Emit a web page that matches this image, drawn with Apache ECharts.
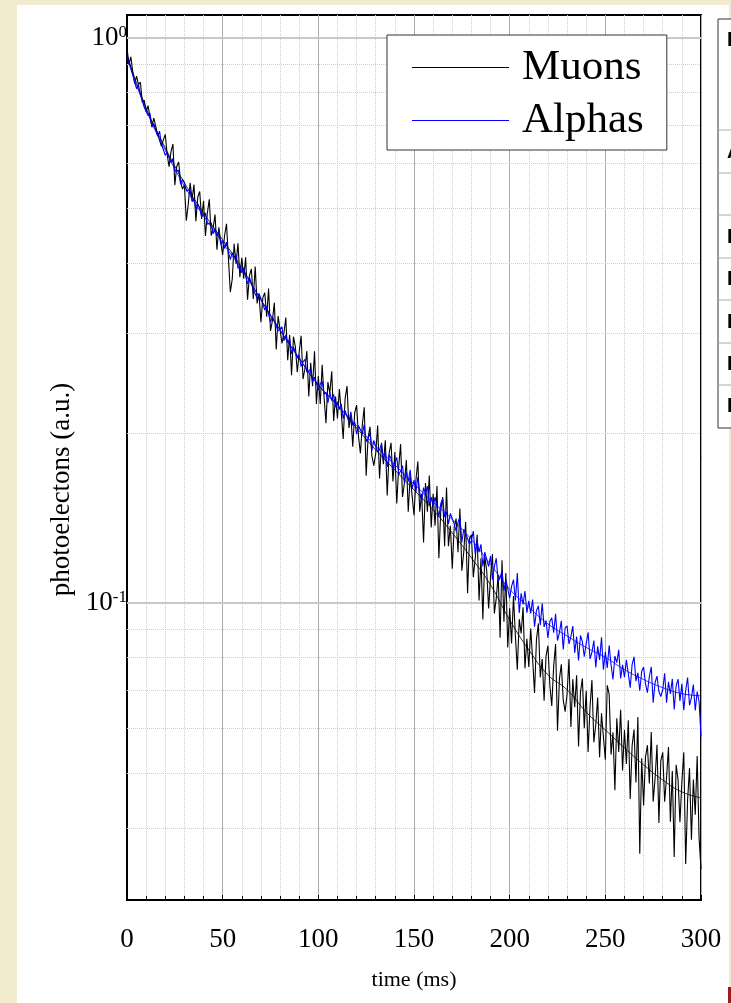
<!DOCTYPE html>
<html>
<head>
<meta charset="utf-8">
<script src="https://cdn.jsdelivr.net/npm/echarts@6/dist/echarts.min.js"></script>
<style>
  html, body { margin: 0; padding: 0; background: #f2ebcd; }
  #panel { position: absolute; left: 17px; top: 5px; width: 712px; height: 998px; background: #ffffff; }
  #chart { position: absolute; left: 0; top: 0; width: 731px; height: 1003px; }
</style>
</head>
<body>
<div id="panel"></div>
<div id="chart"></div>
<script>
// ---- data (time in ms, 1 ms bins) ----
const timeStep = 1;
const muons = [
  0.96, 0.897, 0.926, 0.872, 0.830, 0.856, 0.827, 0.835, 0.769, 0.776,
  0.740, 0.759, 0.726, 0.695, 0.721, 0.724, 0.676, 0.678, 0.643, 0.660,
  0.675, 0.621, 0.592, 0.629, 0.649, 0.549, 0.593, 0.603, 0.557, 0.540,
  0.549, 0.475, 0.507, 0.554, 0.518, 0.550, 0.474, 0.523, 0.535, 0.478,
  0.515, 0.446, 0.490, 0.518, 0.447, 0.460, 0.487, 0.422, 0.462, 0.435,
  0.413, 0.447, 0.469, 0.408, 0.355, 0.374, 0.432, 0.398, 0.433, 0.377,
  0.408, 0.375, 0.409, 0.344, 0.380, 0.390, 0.345, 0.394, 0.339, 0.352,
  0.314, 0.347, 0.354, 0.321, 0.360, 0.303, 0.316, 0.340, 0.281, 0.322,
  0.324, 0.288, 0.300, 0.320, 0.269, 0.298, 0.253, 0.296, 0.284, 0.256,
  0.278, 0.297, 0.249, 0.260, 0.279, 0.232, 0.266, 0.242, 0.279, 0.225,
  0.252, 0.225, 0.264, 0.231, 0.208, 0.246, 0.235, 0.257, 0.210, 0.232,
  0.212, 0.239, 0.217, 0.195, 0.230, 0.242, 0.204, 0.215, 0.189, 0.217,
  0.224, 0.197, 0.184, 0.207, 0.222, 0.168, 0.196, 0.205, 0.182, 0.175,
  0.184, 0.206, 0.166, 0.192, 0.176, 0.194, 0.155, 0.184, 0.192, 0.164,
  0.185, 0.150, 0.174, 0.191, 0.154, 0.163, 0.179, 0.145, 0.168, 0.155,
  0.143, 0.165, 0.178, 0.145, 0.156, 0.128, 0.163, 0.145, 0.168, 0.136,
  0.156, 0.137, 0.161, 0.120, 0.146, 0.154, 0.126, 0.160, 0.126, 0.137,
  0.115, 0.136, 0.141, 0.123, 0.147, 0.114, 0.123, 0.139, 0.104, 0.130,
  0.132, 0.111, 0.120, 0.132, 0.101, 0.120, 0.0935, 0.121, 0.114, 0.0978,
  0.111, 0.122, 0.0958, 0.102, 0.112, 0.0868, 0.119, 0.0926, 0.113, 0.0834,
  0.0978, 0.0848, 0.1029, 0.0872, 0.0762, 0.0936, 0.0883, 0.0982, 0.0766, 0.0864,
  0.0770, 0.0901, 0.0796, 0.0693, 0.0861, 0.0920, 0.0738, 0.0796, 0.0671, 0.0805,
  0.0840, 0.0715, 0.0657, 0.0773, 0.0846, 0.0594, 0.0733, 0.0779, 0.0673, 0.0642,
  0.0689, 0.0796, 0.0603, 0.0733, 0.0654, 0.0745, 0.0557, 0.0695, 0.0735, 0.0600,
  0.0699, 0.0545, 0.0655, 0.0730, 0.0567, 0.0608, 0.0680, 0.0533, 0.0638, 0.0579,
  0.0528, 0.0715, 0.0689, 0.0539, 0.0590, 0.0466, 0.0625, 0.0545, 0.0647, 0.0505,
  0.0596, 0.0519, 0.0620, 0.0450, 0.0559, 0.0597, 0.0481, 0.0628, 0.036, 0.0531,
  0.0438, 0.0534, 0.0560, 0.0479, 0.0591, 0.0445, 0.0489, 0.0561, 0.0408, 0.0526,
  0.0544, 0.0445, 0.0491, 0.0556, 0.0410, 0.0504, 0.0355, 0.0517, 0.0487, 0.0409,
  0.0482, 0.0544, 0.0345, 0.0448, 0.0510, 0.0381, 0.0487, 0.0422, 0.0536, 0.0383,
  0.0338
];
const alphas = [
  0.93, 0.911, 0.907, 0.860, 0.854, 0.813, 0.826, 0.795, 0.797, 0.754,
  0.753, 0.729, 0.736, 0.696, 0.705, 0.700, 0.670, 0.684, 0.649, 0.646,
  0.620, 0.627, 0.624, 0.602, 0.612, 0.581, 0.580, 0.583, 0.551, 0.562,
  0.555, 0.536, 0.535, 0.539, 0.513, 0.520, 0.496, 0.509, 0.499, 0.483,
  0.486, 0.490, 0.468, 0.468, 0.471, 0.450, 0.459, 0.446, 0.455, 0.431,
  0.438, 0.424, 0.435, 0.418, 0.405, 0.417, 0.408, 0.414, 0.391, 0.396,
  0.384, 0.392, 0.379, 0.367, 0.377, 0.378, 0.359, 0.360, 0.346, 0.353,
  0.351, 0.338, 0.330, 0.335, 0.337, 0.314, 0.321, 0.321, 0.309, 0.303,
  0.303, 0.308, 0.291, 0.298, 0.289, 0.293, 0.276, 0.284, 0.284, 0.271,
  0.275, 0.262, 0.267, 0.270, 0.256, 0.256, 0.259, 0.246, 0.251, 0.245,
  0.238, 0.244, 0.247, 0.234, 0.236, 0.226, 0.236, 0.228, 0.234, 0.222,
  0.227, 0.220, 0.225, 0.212, 0.219, 0.220, 0.209, 0.218, 0.206, 0.209,
  0.199, 0.206, 0.207, 0.199, 0.207, 0.193, 0.195, 0.200, 0.186, 0.194,
  0.194, 0.185, 0.187, 0.191, 0.179, 0.185, 0.174, 0.183, 0.180, 0.173,
  0.177, 0.181, 0.169, 0.171, 0.175, 0.163, 0.171, 0.164, 0.172, 0.159,
  0.165, 0.157, 0.167, 0.157, 0.151, 0.160, 0.156, 0.161, 0.149, 0.154,
  0.148, 0.154, 0.148, 0.142, 0.150, 0.153, 0.142, 0.145, 0.138, 0.144,
  0.145, 0.138, 0.134, 0.139, 0.142, 0.128, 0.135, 0.136, 0.130, 0.127,
  0.129, 0.134, 0.122, 0.129, 0.123, 0.127, 0.116, 0.123, 0.124, 0.116,
  0.121, 0.110, 0.116, 0.120, 0.109, 0.111, 0.114, 0.105, 0.110, 0.106,
  0.102, 0.107, 0.110, 0.101, 0.113, 0.0960, 0.104, 0.0994, 0.105, 0.0961,
  0.1009, 0.0958, 0.1014, 0.0908, 0.0969, 0.0988, 0.0913, 0.0999, 0.0907, 0.0931,
  0.0867, 0.0927, 0.0941, 0.0886, 0.0957, 0.0858, 0.0886, 0.0930, 0.0827, 0.0903,
  0.0911, 0.0846, 0.0872, 0.0910, 0.0816, 0.0872, 0.0791, 0.0876, 0.0854, 0.0803,
  0.0847, 0.0887, 0.0796, 0.0818, 0.0858, 0.0769, 0.0838, 0.0793, 0.0869, 0.0762,
  0.0819, 0.0767, 0.0841, 0.0777, 0.0732, 0.0805, 0.0784, 0.0826, 0.0735, 0.0777,
  0.0739, 0.0793, 0.0750, 0.0708, 0.0778, 0.0803, 0.0727, 0.0752, 0.0699, 0.0757,
  0.0770, 0.0719, 0.0694, 0.0741, 0.0771, 0.0666, 0.0723, 0.0742, 0.0697, 0.0683,
  0.0702, 0.0751, 0.0666, 0.0725, 0.0690, 0.0734, 0.0648, 0.0713, 0.0733, 0.0671,
  0.0719, 0.0646, 0.0700, 0.0738, 0.0659, 0.0680, 0.0717, 0.0645, 0.0697, 0.0669,
  0.0580
];
// thin fitted curves, 10 ms steps
const fitStep = 10;
const fitMuons = [0.933, 0.752, 0.639, 0.554, 0.490, 0.439, 0.392, 0.344, 0.304, 0.271,
  0.243, 0.224, 0.204, 0.1866, 0.1719, 0.1585, 0.1461, 0.133, 0.1202, 0.1076,
  0.0933, 0.0826, 0.0746, 0.0702, 0.0641, 0.0596, 0.0554, 0.0517, 0.0486, 0.0463, 0.0452];
const fitAlphas = [0.922, 0.746, 0.633, 0.547, 0.484, 0.434, 0.389, 0.344, 0.304, 0.271,
  0.243, 0.224, 0.206, 0.1894, 0.1755, 0.1624, 0.1508, 0.1405, 0.1295, 0.117,
  0.1058, 0.0983, 0.0918, 0.0874, 0.0834, 0.0801, 0.0762, 0.0732, 0.0708, 0.0691, 0.0685];

const seriesNames = ['Muons', 'Alphas'];
const xTitle = 'time (ms)';
const yTitle = 'photoelectons (a.u.)';
const yMajorGrid = [0.1, 1];
const yMinorGrid = [0.04, 0.05, 0.06, 0.07, 0.08, 0.09, 0.2, 0.3, 0.4, 0.5, 0.6, 0.7, 0.8, 0.9];
const tableRows = ['Data', 'Alphas', '', 'P1', 'P2', 'P3', 'P4', 'P5'];

const toPairs = (arr, step) => arr.map((v, i) => [i * step, v]);
const serif = 'Liberation Serif';

const chart = echarts.init(document.getElementById('chart'), null, { renderer: 'canvas' });

// table on the right (cut off by the window edge)
const tableTop = 19, tableBottom = 428, tableLeft = 718;
const rowLines = [130, 173, 215, 258, 300, 343, 385];
const rowTextY = [40, 152, 194, 237, 279, 322, 364, 406];
const graphics = [
  { type: 'rect', shape: { x: tableLeft, y: tableTop, width: 60, height: tableBottom - tableTop },
    style: { fill: '#fff', stroke: '#333', lineWidth: 1 }, z: 0 }
];
rowLines.forEach(y => graphics.push({ type: 'line', shape: { x1: tableLeft, y1: y, x2: 760, y2: y },
  style: { stroke: '#aaa', lineWidth: 1 }, z: 1 }));
tableRows.forEach((t, i) => graphics.push({ type: 'text', x: 727, y: rowTextY[i],
  style: { text: t, font: 'bold 20px "Liberation Sans"', fill: '#000', textVerticalAlign: 'middle' }, z: 2 }));
graphics.push({ type: 'rect', shape: { x: 728, y: 987, width: 3, height: 16 }, style: { fill: '#9a1c1c' }, z: 2 });

chart.setOption({
  animation: false,
  backgroundColor: 'transparent',
  graphic: graphics,
  grid: {
    left: 127, top: 15, right: 30, bottom: 103,
    show: true, borderColor: '#000', borderWidth: 2, backgroundColor: '#fff'
  },
  legend: {
    data: seriesNames,
    orient: 'vertical',
    left: 387, top: 35, z: 20,
    padding: [11, 23, 8, 25],
    itemGap: 10,
    itemWidth: 97,
    itemHeight: 1,
    icon: 'path://M0,0 L100,0 L100,1 L0,1 Z',
    textStyle: { fontFamily: serif, fontSize: 43, lineHeight: 43, color: '#000', padding: [0, 0, 0, 8] },
    borderColor: '#333', borderWidth: 1, backgroundColor: '#fff',
    selectedMode: false
  },
  xAxis: {
    type: 'value', min: 0, max: 300, interval: 50,
    name: xTitle, nameLocation: 'middle', nameGap: 69,
    nameTextStyle: { fontFamily: serif, fontSize: 22, color: '#000' },
    axisLine: { show: true, onZero: false, lineStyle: { color: '#000', width: 2 } },
    axisTick: { show: true, inside: true, length: 5, lineStyle: { color: '#000' } },
    minorTick: { show: true, splitNumber: 5, length: 4, lineStyle: { color: '#000' } },
    axisLabel: { fontFamily: serif, fontSize: 27, color: '#000', margin: 26 },
    splitLine: { show: true, lineStyle: { color: '#aaa', width: 1 } },
    minorSplitLine: { show: true, lineStyle: { color: '#cfcfcf', width: 1, type: 'dotted' } }
  },
  yAxis: {
    type: 'log', logBase: 10, min: 0.0298, max: 1.098,
    name: yTitle, nameLocation: 'middle', nameGap: 51,
    nameTextStyle: { fontFamily: serif, fontSize: 27, color: '#000', padding: [0, 64, 0, 0] },
    axisLine: { show: true, onZero: false, lineStyle: { color: '#000', width: 2 } },
    axisTick: { show: true, inside: true, length: 5, lineStyle: { color: '#000' } },
    splitLine: { show: false },
    axisLabel: {
      margin: 0,
      formatter: function (v) {
        const e = Math.log10(v);
        if (Math.abs(e - Math.round(e)) > 1e-6) return '';
        return '{a|10}{b|' + Math.round(e) + '}';
      },
      rich: {
        a: { fontFamily: serif, fontSize: 27, lineHeight: 27, color: '#000', padding: [9, 0, 0, 0], verticalAlign: 'bottom' },
        b: { fontFamily: serif, fontSize: 17, lineHeight: 17, color: '#000', verticalAlign: 'top' }
      }
    }
  },
  series: [
    {
      name: 'grid', type: 'line', data: [], z: 1, silent: true,
      markLine: {
        z: 1, silent: true, symbol: ['none', 'none'], label: { show: false },
        data: yMinorGrid.map(v => ({ yAxis: v, lineStyle: { color: '#cfcfcf', width: 1, type: 'dotted' } }))
          .concat(yMajorGrid.map(v => ({ yAxis: v, lineStyle: { color: '#c8c8c8', width: 2, type: 'solid' } })))
      }
    },
    {
      name: seriesNames[0], type: 'line', data: toPairs(muons, timeStep), z: 3,
      showSymbol: false, symbol: 'none', color: '#000',
      lineStyle: { color: '#000', width: 1.1 }
    },
    {
      name: seriesNames[1], type: 'line', data: toPairs(alphas, timeStep), z: 3,
      showSymbol: false, symbol: 'none', color: '#0000ff',
      lineStyle: { color: '#0000ff', width: 1.1 }
    },
    {
      name: 'fitMuons', type: 'line', data: toPairs(fitMuons, fitStep), z: 4,
      showSymbol: false, symbol: 'none', smooth: true,
      lineStyle: { color: '#000', width: 0.8 }
    },
    {
      name: 'fitAlphas', type: 'line', data: toPairs(fitAlphas, fitStep), z: 4,
      showSymbol: false, symbol: 'none', smooth: true,
      lineStyle: { color: '#0000ff', width: 0.8 }
    }
  ]
});
</script>
</body>
</html>
